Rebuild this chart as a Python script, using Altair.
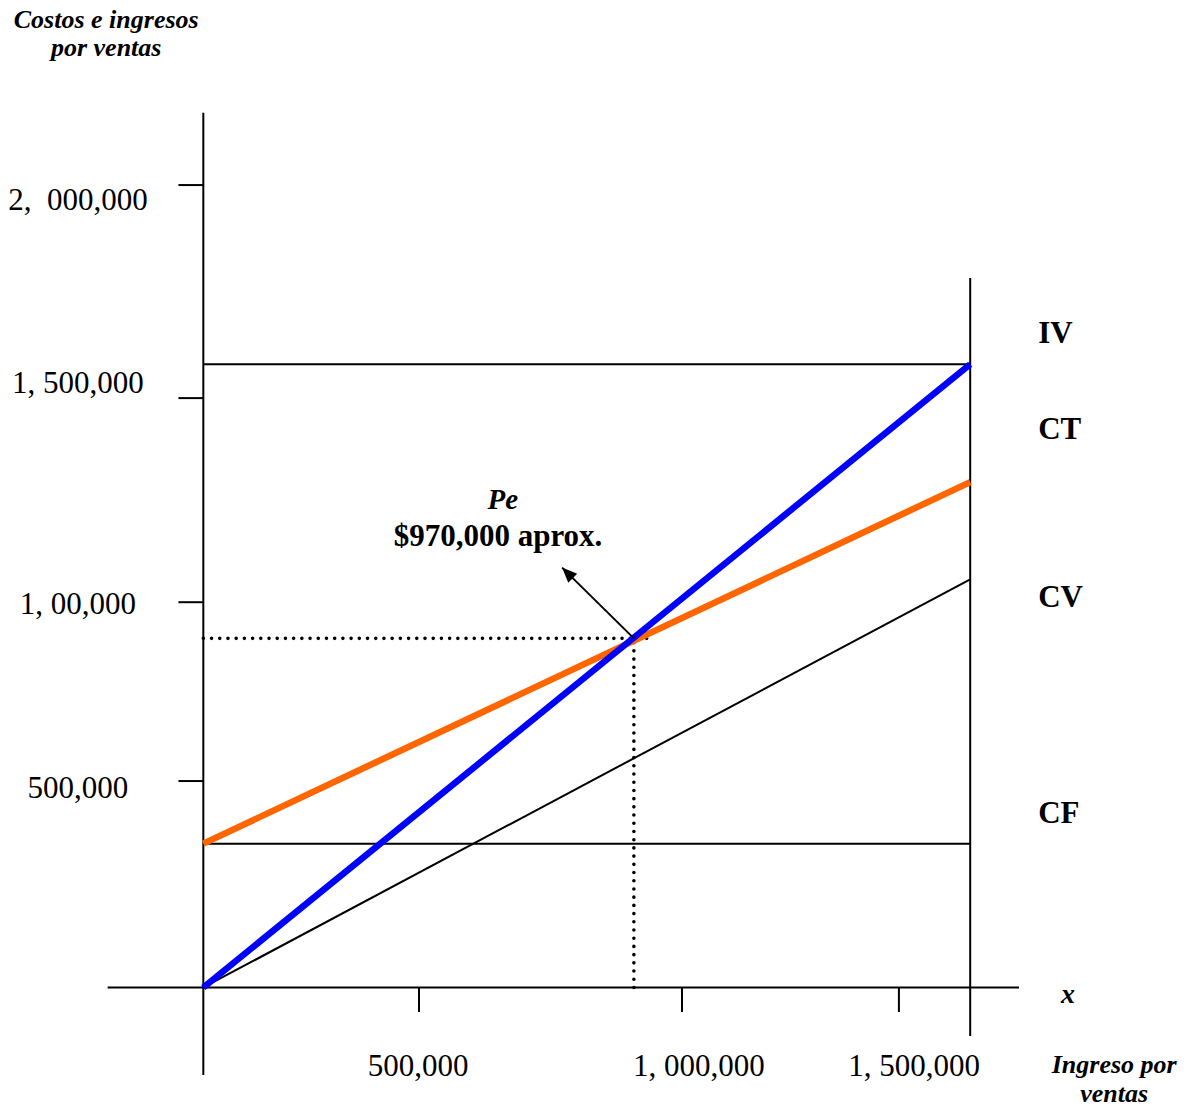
import altair as alt
import pandas as pd

# Scale extents in pesos (sales on x, costs / revenue on y)
X_DOMAIN = [-425000, 2075000]
Y_DOMAIN = [-310000, 2540000]

# Break-even model values
x_end = 1603000          # sales level where the lines stop
iv_end = 1603000         # revenue line IV: ingreso = ventas
ct_start, ct_end = 370000, 1300000   # total cost CT
cv_end = 1050000         # variable cost CV
cf_level = 370000        # fixed cost CF
pe = (900000, 898000)    # break-even point
arrow_tip = (750000, 1080000)

# Axis extents and tick positions
y_axis_span = [-225000, 2250000]
x_axis_span = [-200000, 1705000]
end_line_span = [-125000, 1825000]
y_tick_at = [2064000, 1516000, 991000, 531000]
y_tick_text = ["2,\u00a0 000,000", "1, 500,000", "1, 00,000", "500,000"]
y_tick_text_y = [2000000, 1529000, 961000, 487000]
x_tick_at = [450800, 1000600, 1454000]
x_tick_text = ["500,000", "1, 000,000", "1, 500,000"]
x_tick_text_x = [449000, 1036000, 1486000]
tick_len_y, tick_len_x = 52000, 63000

series_labels = ["IV", "CT", "CV", "CF"]
series_label_y = [1658000, 1411000, 979000, 423000]

X = dict(scale=alt.Scale(domain=X_DOMAIN, nice=False, zero=False), axis=None)
Y = dict(scale=alt.Scale(domain=Y_DOMAIN, nice=False, zero=False), axis=None)


def segs(rows):
    return pd.DataFrame(rows, columns=["x", "y", "x2", "y2"])


def rule_layer(df, **mark):
    return alt.Chart(df).mark_rule(**mark).encode(
        x=alt.X("x:Q", **X), y=alt.Y("y:Q", **Y), x2="x2:Q", y2="y2:Q"
    )


thin_rows = [
    (0, y_axis_span[0], 0, y_axis_span[1]),
    (x_axis_span[0], 0, x_axis_span[1], 0),
    (x_end, end_line_span[0], x_end, end_line_span[1]),
    (0, iv_end, x_end, iv_end),
    (0, cf_level, x_end, cf_level),
    (0, 0, x_end, cv_end),
]
thin_rows += [(-tick_len_y, v, 0, v) for v in y_tick_at]
thin_rows += [(v, -tick_len_x, v, 0) for v in x_tick_at]

thin = rule_layer(segs(thin_rows), color="black", strokeWidth=2)

dotted = rule_layer(
    segs([(0, pe[1], 940000, pe[1]), (pe[0], 0, pe[0], pe[1])]),
    color="black", strokeWidth=3.6, strokeDash=[0.01, 8.2], strokeCap="round",
)

ct_line = rule_layer(segs([(0, ct_start, x_end, ct_end)]), color="#FF6600", strokeWidth=6.5)
iv_line = rule_layer(segs([(0, 0, x_end, iv_end)]), color="#0000FF", strokeWidth=6.5)

arrow_shaft = rule_layer(
    segs([(pe[0], pe[1], arrow_tip[0], arrow_tip[1])]), color="black", strokeWidth=2
)
arrow_head = alt.Chart(
    pd.DataFrame({"x": [arrow_tip[0]], "y": [arrow_tip[1]]})
).mark_point(
    shape="M0,0L-0.42,1L0.42,1Z", filled=True, size=900, angle=315,
    color="black", opacity=1,
).encode(x=alt.X("x:Q", **X), y=alt.Y("y:Q", **Y))


def text_layer(xs, ys, texts, size, weight="normal", style="normal", align="center"):
    df = pd.DataFrame({"x": xs, "y": ys, "t": texts})
    return alt.Chart(df).mark_text(
        font="Liberation Serif", fontSize=size, fontWeight=weight, fontStyle=style,
        align=align, baseline="alphabetic", color="black",
    ).encode(x=alt.X("x:Q", **X), y=alt.Y("y:Q", **Y), text="t:N")


y_labels = text_layer([-262000] * 4, y_tick_text_y, y_tick_text, 31)
x_labels = text_layer(x_tick_text_x, [-227600] * 3, x_tick_text, 31)
right_labels = text_layer([1745000] * 4, series_label_y, series_labels, 31,
                          weight="bold", align="left")
y_title = text_layer([-203000, -203000], [2468000, 2396000],
                     ["Costos e ingresos", "por ventas"], 26,
                     weight="bold", style="italic")
x_title = text_layer([1904000, 1904000], [-220000, -294600],
                     ["Ingreso por", "ventas"], 26, weight="bold", style="italic")
x_var = text_layer([1793000], [-40000], ["x"], 28, weight="bold", style="italic",
                   align="left")
pe_name = text_layer([626000], [1231000], ["Pe"], 29, weight="bold", style="italic")
pe_value = text_layer([616000], [1136000], ["$970,000 aprox."], 31, weight="bold")

chart = alt.layer(
    thin, dotted, ct_line, iv_line, arrow_shaft, arrow_head,
    y_labels, x_labels, right_labels, y_title, x_title, x_var, pe_name, pe_value,
).properties(
    width=1196, height=1108, padding=0,
    autosize=alt.AutoSizeParams(type="none"),
).configure_view(stroke=None)

chart.save("out.html", embed_options={"renderer": "svg", "actions": False})
